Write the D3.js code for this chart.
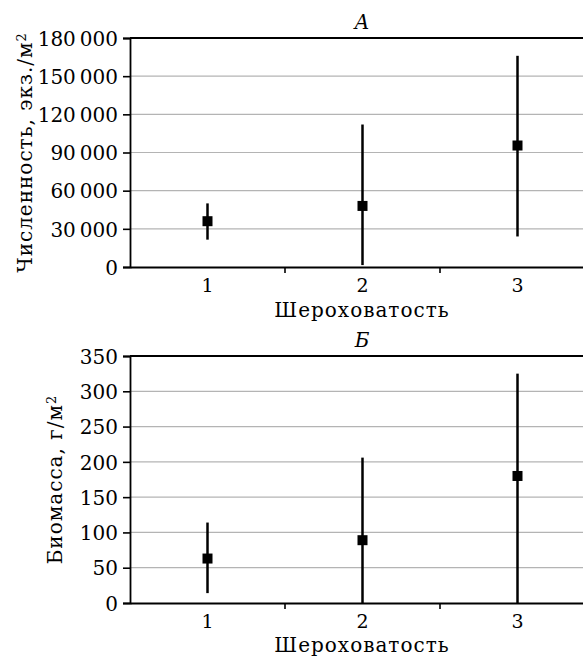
<!DOCTYPE html>
<html><head><meta charset="utf-8">
<script src="https://cdn.jsdelivr.net/npm/d3@7"></script>
<style>body{margin:0;background:#fff}svg{display:block}text{font-family:"DejaVu Serif",serif;fill:#000}</style>
</head><body><svg id="c" width="583" height="657"></svg>
<script>
const categories = ["1","2","3"];
const countMean  = [36000, 48000, 95500];
const countLow   = [21500, 1500, 24000];
const countHigh  = [50000, 112000, 166000];
const countTicks = [0, 30000, 60000, 90000, 120000, 150000, 180000];
const bioMean  = [63, 89, 180];
const bioLow   = [14, 0, 0];
const bioHigh  = [114, 206, 325];
const bioTicks = [0, 50, 100, 150, 200, 250, 300, 350];

const svg = d3.select("#c");
const fmt = v => d3.format(",")(v).replace(/,/g, "\u2009");

function panel(o){
  const g = svg.append("g");
  const x = d3.scaleBand().domain(categories).range([130, 595]).padding(0);
  const y = d3.scaleLinear().domain([0, o.max]).range([o.bottom, o.top]);
  // grid
  g.selectAll("line.grid").data(o.ticks.filter(t=>t>0 && t<o.max)).enter().append("line")
    .attr("x1",130).attr("x2",583).attr("y1",d=>y(d)).attr("y2",d=>y(d))
    .attr("stroke","#b4b4b4").attr("stroke-width",1.2);
  // top line
  g.append("line").attr("x1",130).attr("x2",583).attr("y1",y(o.max)).attr("y2",y(o.max))
    .attr("stroke","#000").attr("stroke-width",1.8);
  // y axis
  const ya = g.append("g").attr("transform","translate(130,0)")
    .call(d3.axisLeft(y).tickValues(o.ticks).tickFormat(o.fmt).tickSize(7).tickPadding(5));
  ya.select(".domain").attr("stroke-width",1.8);
  ya.selectAll(".tick line").attr("stroke-width",1.6);
  ya.selectAll("text").style("font-size","20px").attr("dy","0.36em");
  // x axis
  const xa = g.append("g").attr("transform",`translate(0,${o.bottom})`)
    .call(d3.axisBottom(x).tickSize(0).tickPadding(0));
  xa.select(".domain").attr("stroke-width",1.8);
  xa.selectAll("text").style("font-size","19px").attr("dy",null).attr("y",25);
  g.selectAll("line.bt").data(categories.slice(1)).enter().append("line")
    .attr("x1",d=>x(d)).attr("x2",d=>x(d)).attr("y1",o.bottom).attr("y2",o.bottom+6)
    .attr("stroke","#000").attr("stroke-width",1.6);
  // error bars
  const cx = d=>x(d)+x.bandwidth()/2;
  g.selectAll("line.err").data(categories).enter().append("line")
    .attr("x1",cx).attr("x2",cx)
    .attr("y1",(d,i)=>y(o.low[i])).attr("y2",(d,i)=>y(o.high[i]))
    .attr("stroke","#000").attr("stroke-width",2.5);
  g.selectAll("rect.m").data(categories).enter().append("rect")
    .attr("x",d=>cx(d)-5).attr("y",(d,i)=>y(o.mean[i])-5).attr("width",10).attr("height",10)
    .attr("fill","#000");
  // titles
  g.append("text").attr("x",362).attr("y",o.top-9).attr("text-anchor","middle")
    .style("font-size","20px").style("font-style","italic").text(o.title);
  g.append("text").attr("x",362).attr("y",o.bottom+o.xtY).attr("text-anchor","middle")
    .style("font-size","20px").style("letter-spacing","1px").text("Шероховатость");
  const yl = g.append("text").attr("transform",`translate(${o.ylx},${(o.top+o.bottom)/2}) rotate(-90)`)
    .attr("text-anchor","middle").style("font-size","20px").style("letter-spacing","1px");
  yl.append("tspan").text(o.ylabel);
  yl.append("tspan").attr("dy","-0.45em").style("font-size","13px").text("2");
}

panel({top:38, bottom:267, max:180000, ticks:countTicks, fmt:fmt, mean:countMean, low:countLow, high:countHigh,
  title:"A", ylabel:"Численность,  экз./м", ylx:32, xtY:50});
panel({top:356, bottom:603, max:350, ticks:bioTicks, fmt:d3.format("d"), mean:bioMean, low:bioLow, high:bioHigh,
  title:"Б", ylabel:"Биомасса,  г/м", ylx:62, xtY:49});
</script></body></html>
